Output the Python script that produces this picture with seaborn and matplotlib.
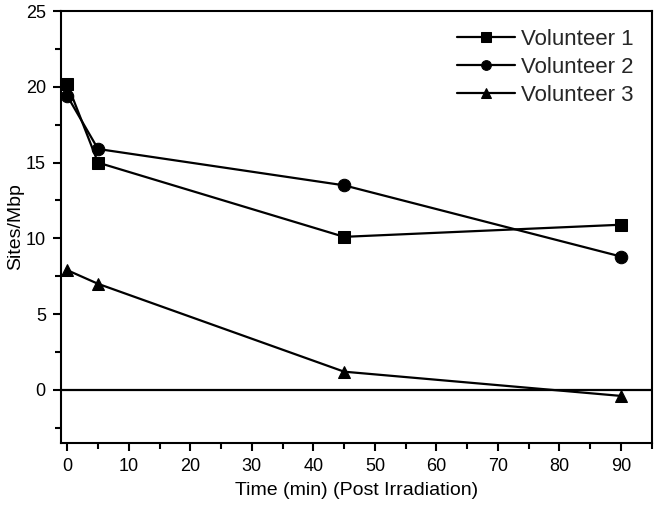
import pandas as pd
import matplotlib
matplotlib.use("Agg")
import matplotlib.pyplot as plt
import seaborn as sns
from matplotlib.ticker import MultipleLocator

# values
times = [0, 5, 45, 90]
volunteer_1 = [20.2, 15.0, 10.1, 10.9]
volunteer_2 = [19.4, 15.9, 13.5, 8.8]
volunteer_3 = [7.9, 7.0, 1.2, -0.4]
labels = ['Volunteer 1', 'Volunteer 2', 'Volunteer 3']

df = pd.DataFrame({
    'time': times * 3,
    'sites': volunteer_1 + volunteer_2 + volunteer_3,
    'volunteer': [lab for lab in labels for _ in times],
})

sns.set_theme(style="ticks")
plt.rcParams['font.family'] = ['Liberation Sans', 'DejaVu Sans']

fig = plt.figure(figsize=(6.57, 5.05), dpi=100)
ax = fig.add_axes([0.093, 0.123, 0.899, 0.855])

sns.lineplot(
    data=df, x='time', y='sites', style='volunteer',
    markers=['s', 'o', '^'], dashes=False, color='black',
    markersize=9, linewidth=1.6, markeredgecolor='black', ax=ax
)

ax.axhline(0, color='black', linewidth=1.6, zorder=1)

ax.set_xlim(-1, 95)
ax.set_ylim(-3.5, 25)
ax.xaxis.set_major_locator(MultipleLocator(10))
ax.xaxis.set_minor_locator(MultipleLocator(5))
ax.yaxis.set_major_locator(MultipleLocator(5))
ax.yaxis.set_minor_locator(MultipleLocator(2.5))
ax.tick_params(axis='both', which='major', length=6, width=1.5, labelsize=13,
               color='black', labelcolor='black', pad=5)
ax.tick_params(axis='both', which='minor', length=4, width=1.5, color='black')

for side in ['left', 'bottom', 'top', 'right']:
    ax.spines[side].set_color('black')
    ax.spines[side].set_linewidth(1.5)
    ax.spines[side].set_visible(True)

ax.set_xlabel('Time (min) (Post Irradiation)', fontsize=14, color='black', labelpad=5)
ax.set_ylabel('Sites/Mbp', fontsize=14, color='black', labelpad=1)

leg = ax.legend(loc='upper right', frameon=False, fontsize=16, handlelength=2.6,
                handletextpad=0.3, labelspacing=0.32, borderaxespad=0.4)
for line in leg.get_lines():
    line.set_markersize(7)

fig.savefig('out.png', dpi=100)
